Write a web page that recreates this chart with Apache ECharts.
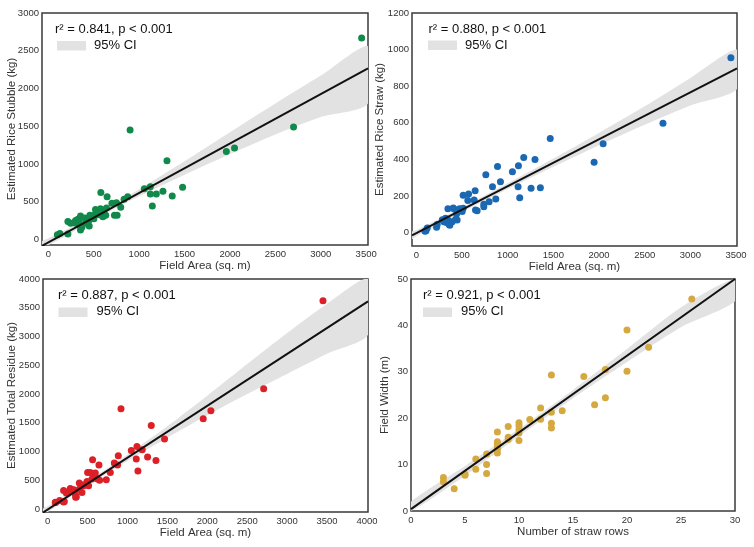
<!DOCTYPE html>
<html>
<head>
<meta charset="utf-8">
<script src="https://cdn.jsdelivr.net/npm/echarts@6/dist/echarts.min.js"></script>
<style>html,body{margin:0;padding:0;background:#fff;}#c{width:754px;height:547px;}</style>
</head>
<body>
<div id="c"></div>
<script>
// ---------- DATA ----------
// Panel A: rice stubble vs field area
const areaA = [99,127,215,215,245,281,300,325,325,340,354,354,369,402,413,450,450,457,470,501,501,519,559,574,578,600,610,632,640,647,700,728,757,750,797,834,874,900,1057,1123,1123,1145,1189,1262,1306,1364,1478,1960,2050,2700,3450];
const stubble = [61,79,70,238,212,220,250,265,193,230,309,123,159,282,212,256,176,318,300,318,273,397,326,406,622,300,360,318,415,565,480,318,318,485,424,530,565,1450,670,697,600,441,600,636,1041,574,689,1165,1210,1490,2670];
const lineAx = [-70, 3520];
const lineAy = [-86, 2266];
const bandAx = [-70, 0, 250, 500, 750, 1000, 1500, 2000, 2500, 3000, 3520];
const bandAlo = [-150, -95, 85, 255, 420, 570, 855, 1130, 1390, 1620, 1800];
const bandAhi = [-25, 15, 160, 320, 485, 665, 1035, 1420, 1800, 2170, 2560];

// Panel B: rice straw vs field area
const areaB = [95,106,120,222,229,285,302,320,330,346,357,360,367,393,430,346,404,411,447,441,474,502,513,513,564,572,633,644,648,666,739,739,761,797,834,870,889,921,1052,1114,1118,1132,1176,1256,1299,1358,1466,1946,2045,2700,3443];
const straw = [8,11,25,29,45,70,60,78,55,69,51,45,40,60,72,131,135,131,69,102,131,115,133,204,175,211,178,229,124,120,155,142,316,169,251,184,362,278,333,251,366,191,411,242,400,245,515,384,485,597,956];
const lineBx = [-47, 3510];
const lineBy = [-15, 897];
const bandBx = [-47, 0, 500, 1000, 1500, 2000, 2500, 3000, 3510];
const bandBlo = [-35, -20, 112, 238, 360, 478, 590, 695, 785];
const bandBhi = [5, 14, 138, 270, 405, 545, 690, 845, 1000];

// Panel C: total residue vs field area
const areaC = [96,100,150,200,209,200,234,260,284,300,326,338,347,359,351,397,401,430,451,460,493,501,513,534,555,563,580,597,626,643,651,735,785,835,876,885,919,1048,1110,1119,1131,1185,1252,1298,1357,1464,1949,2045,2706,3449];
const totalRes = [116,115,150,122,132,324,278,300,358,330,336,325,261,209,203,452,348,289,405,420,480,637,405,637,522,857,560,626,522,765,498,510,637,800,765,927,1744,1019,870,1089,661,1031,904,1454,845,1217,1570,1710,2093,3623];
const lineCx = [-58, 4013];
const lineCy = [-62, 3612];
const bandCx = [-58, 0, 500, 1000, 1500, 2000, 2500, 3000, 3500, 4013];
const bandClo = [-140, -75, 405, 835, 1240, 1630, 2000, 2350, 2700, 3030];
const bandChi = [10, 50, 480, 950, 1440, 1970, 2520, 3060, 3570, 4060];

// Panel D: field width vs number of straw rows
const rows = [3,3,4,5,5,6,6,7,7,7,8,8,8,8,8,8,9,9,9,10,10,10,10,10,11,12,12,13,13,13,13,14,16,17,18,18,20,20,22,26];
const widthM = [7.2,6.3,4.8,7.9,7.7,11.2,9,12.3,10,8.1,17,14.9,14.6,14,13.3,12.5,18.2,15.9,15.4,19,18.4,17.6,16.8,15.2,19.7,22.2,19.8,29.3,21.3,18.9,17.9,21.6,29,22.9,30.5,24.4,39,30.1,35.3,45.7];
const lineDx = [0, 30];
const lineDy = [0.4, 50];
const bandDx = [0, 5, 10, 15, 20, 25, 30];
const bandDlo = [-1.2, 7.6, 16.1, 24.3, 32.1, 39.6, 45.2];
const bandDhi = [2.0, 9.7, 17.7, 26.1, 34.9, 43.9, 54.5];

// Tick labels
const ticksArea35 = [0, 500, 1000, 1500, 2000, 2500, 3000, 3500];
const ticksArea40 = [0, 500, 1000, 1500, 2000, 2500, 3000, 3500, 4000];
const ticksStubble = [0, 500, 1000, 1500, 2000, 2500, 3000];
const ticksStraw = [0, 200, 400, 600, 800, 1000, 1200];
const ticksTotal = [0, 500, 1000, 1500, 2000, 2500, 3000, 3500, 4000];
const ticksRows = [0, 5, 10, 15, 20, 25, 30];
const ticksWidth = [0, 10, 20, 30, 40, 50];

const stats = ['r² = 0.841, p < 0.001', 'r² = 0.880, p < 0.001', 'r² = 0.887, p < 0.001', 'r² = 0.921, p < 0.001'];
const ciLabel = '95% CI';

// ---------- CHART ----------
const FONT = 'Liberation Sans, Arial, Helvetica, sans-serif';
const zip = (a, b) => a.map((v, i) => [v, b[i]]);

const panels = [
  {grid: {left: 42, top: 13, width: 326, height: 232}, xr: [-70, 3520], yr: [-75, 3000], xt: ticksArea35, yt: ticksStubble,
   xn: 'Field Area (sq. m)', yn: 'Estimated Rice Stubble (kg)', yGap: 24,
   x: areaA, y: stubble, lx: lineAx, ly: lineAy, bx: bandAx, blo: bandAlo, bhi: bandAhi, color: '#10894a',
   ann: {x: 55, y: 29.5, bx: 57, by: 41, tx: 94, ty: 45.5}},
  {grid: {left: 412, top: 13, width: 325, height: 233}, xr: [-47, 3510], yr: [-73, 1200], xt: ticksArea35, yt: ticksStraw,
   xn: 'Field Area (sq. m)', yn: 'Estimated Rice Straw (kg)', yGap: 26,
   x: areaB, y: straw, lx: lineBx, ly: lineBy, bx: bandBx, blo: bandBlo, bhi: bandBhi, color: '#1a68b2',
   ann: {x: 428.5, y: 29.5, bx: 428, by: 40.5, tx: 465, ty: 45.5}},
  {grid: {left: 43, top: 279, width: 325, height: 233}, xr: [-58, 4013], yr: [-52, 4000], xt: ticksArea40, yt: ticksTotal,
   xn: 'Field Area (sq. m)', yn: 'Estimated Total Residue (kg)', yGap: 25,
   x: areaC, y: totalRes, lx: lineCx, ly: lineCy, bx: bandCx, blo: bandClo, bhi: bandChi, color: '#dd1f27',
   ann: {x: 58, y: 295, bx: 58.5, by: 307.5, tx: 96.5, ty: 311.5}},
  {grid: {left: 411, top: 279, width: 324, height: 232}, xr: [0, 30], yr: [0, 50], xt: ticksRows, yt: ticksWidth,
   xn: 'Number of straw rows', yn: 'Field Width (m)', yGap: 20,
   x: rows, y: widthM, lx: lineDx, ly: lineDy, bx: bandDx, blo: bandDlo, bhi: bandDhi, color: '#d5a93f',
   ann: {x: 423, y: 295, bx: 423, by: 307.5, tx: 461, ty: 311.5}}
];

function bandRenderer(p) {
  return function (params, api) {
    if (params.dataIndex !== 0) return null;
    const cs = params.coordSys;
    const upper = p.bx.map((x, k) => api.coord([x, p.bhi[k]]));
    const lower = p.bx.map((x, k) => api.coord([x, p.blo[k]])).reverse();
    let pts = upper.concat(lower);
    pts = echarts.graphic.clipPointsByRect(pts, {x: cs.x, y: cs.y, width: cs.width, height: cs.height});
    return {type: 'polygon', shape: {points: pts, smooth: 0.25}, style: {fill: '#e2e2e2'}, silent: true};
  };
}

const grids = [], xAxes = [], yAxes = [], series = [], graphics = [];
panels.forEach((p, i) => {
  grids.push(Object.assign({show: true, borderColor: '#3a3a3a', borderWidth: 1.5, backgroundColor: 'transparent'}, p.grid));
  const labelStyle = {color: '#333', fontSize: 9.5, fontFamily: FONT, formatter: v => String(v)};
  xAxes.push({
    type: 'value', gridIndex: i, min: p.xr[0], max: p.xr[1],
    axisLine: {show: false}, axisTick: {show: false}, splitLine: {show: false},
    axisLabel: Object.assign({customValues: p.xt, margin: 4}, labelStyle),
    name: p.xn, nameLocation: 'middle', nameGap: 15, nameMoveOverlap: false,
    nameTextStyle: {color: '#333', fontSize: 11.5, fontFamily: FONT}
  });
  yAxes.push({
    type: 'value', gridIndex: i, min: p.yr[0], max: p.yr[1],
    axisLine: {show: false}, axisTick: {show: false}, splitLine: {show: false},
    axisLabel: Object.assign({customValues: p.yt, margin: 3}, labelStyle),
    name: p.yn, nameLocation: 'middle', nameGap: p.yGap, nameMoveOverlap: false,
    nameTextStyle: {color: '#333', fontSize: 11.5, fontFamily: FONT}
  });
  series.push({
    type: 'custom', xAxisIndex: i, yAxisIndex: i, clip: true, silent: true, z: 1,
    data: zip(p.bx, p.bhi), renderItem: bandRenderer(p)
  });
  series.push({
    type: 'scatter', xAxisIndex: i, yAxisIndex: i, data: zip(p.x, p.y),
    symbolSize: 7, itemStyle: {color: p.color, opacity: 1}, z: 2
  });
  series.push({
    type: 'line', xAxisIndex: i, yAxisIndex: i, data: zip(p.lx, p.ly), symbol: 'none',
    lineStyle: {color: '#111', width: 2}, z: 3, silent: true
  });
  const a = p.ann;
  graphics.push({type: 'text', x: a.x, y: a.y, style: {text: stats[i], fill: '#111', font: '13px ' + FONT, textVerticalAlign: 'middle', verticalAlign: 'middle'}});
  graphics.push({type: 'rect', shape: {x: a.bx, y: a.by, width: 29, height: 9.5}, style: {fill: '#e2e2e2'}});
  graphics.push({type: 'text', x: a.tx, y: a.ty, style: {text: ciLabel, fill: '#111', font: '13px ' + FONT, textVerticalAlign: 'middle', verticalAlign: 'middle'}});
});

const chart = echarts.init(document.getElementById('c'), null, {renderer: 'canvas'});
chart.setOption({
  animation: false,
  backgroundColor: '#fff',
  textStyle: {fontFamily: FONT},
  grid: grids, xAxis: xAxes, yAxis: yAxes, series: series, graphic: graphics
});
</script>
</body>
</html>
